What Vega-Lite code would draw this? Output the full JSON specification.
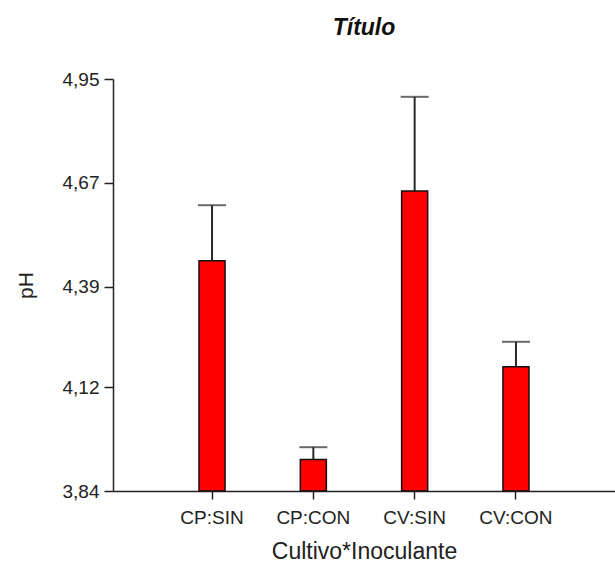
{
  "$schema": "https://vega.github.io/schema/vega-lite/v6.json",
  "width": 502,
  "height": 412,
  "autosize": {"type": "none"},
  "padding": {"left": 113, "top": 79, "right": 0, "bottom": 71},
  "background": "white",
  "title": {
    "text": "Título",
    "font": "Liberation Sans",
    "fontSize": 23,
    "fontWeight": "bold",
    "fontStyle": "italic",
    "color": "#111111",
    "anchor": "middle",
    "offset": 30
  },
  "data": {
    "values": [
      {"grupo": "CP:SIN", "ph": 4.46, "sup": 4.61},
      {"grupo": "CP:CON", "ph": 3.925, "sup": 3.958},
      {"grupo": "CV:SIN", "ph": 4.648, "sup": 4.902},
      {"grupo": "CV:CON", "ph": 4.175, "sup": 4.242}
    ]
  },
  "encoding": {
    "x": {
      "field": "grupo",
      "type": "nominal",
      "sort": null,
      "title": "Cultivo*Inoculante",
      "scale": {"paddingInner": 0.743, "paddingOuter": 0.849},
      "axis": {
        "labelAngle": 0,
        "labelFont": "Liberation Sans",
        "labelFontSize": 19,
        "labelColor": "#222222",
        "labelPadding": 9,
        "tickSize": 8,
        "tickWidth": 1.5,
        "tickColor": "#222222",
        "domainColor": "#222222",
        "domainWidth": 1.5,
        "titleFont": "Liberation Sans",
        "titleFontSize": 23,
        "titleFontWeight": "normal",
        "titleColor": "#222222",
        "titlePadding": 13
      }
    }
  },
  "layer": [
    {
      "mark": {"type": "rule", "color": "#2a2a2a", "strokeWidth": 2},
      "encoding": {
        "y": {"field": "ph", "type": "quantitative"},
        "y2": {"field": "sup"}
      }
    },
    {
      "mark": {"type": "tick", "color": "#2a2a2a", "thickness": 2, "size": 28, "orient": "horizontal"},
      "encoding": {
        "y": {"field": "sup", "type": "quantitative"}
      }
    },
    {
      "mark": {"type": "bar", "fill": "#ff0000", "stroke": "#111111", "strokeWidth": 1.5},
      "encoding": {
        "y": {
          "field": "ph",
          "type": "quantitative",
          "title": "pH",
          "scale": {"domain": [3.84, 4.95], "zero": false, "nice": false},
          "axis": {
            "values": [3.84, 4.12, 4.39, 4.67, 4.95],
            "format": ".2f",
            "labelExpr": "replace(datum.label, '.', ',')",
            "grid": false,
            "labelFont": "Liberation Sans",
            "labelFontSize": 19,
            "labelColor": "#222222",
            "labelPadding": 5,
            "tickSize": 9,
            "tickWidth": 1.5,
            "tickColor": "#222222",
            "domainColor": "#222222",
            "domainWidth": 1.5,
            "titleFont": "Liberation Sans",
            "titleFontSize": 21,
            "titleFontWeight": "normal",
            "titleColor": "#222222",
            "titlePadding": 26
          }
        },
        "y2": {"datum": 3.84}
      }
    }
  ],
  "config": {
    "view": {"stroke": null},
    "axisX": {"grid": false}
  }
}
